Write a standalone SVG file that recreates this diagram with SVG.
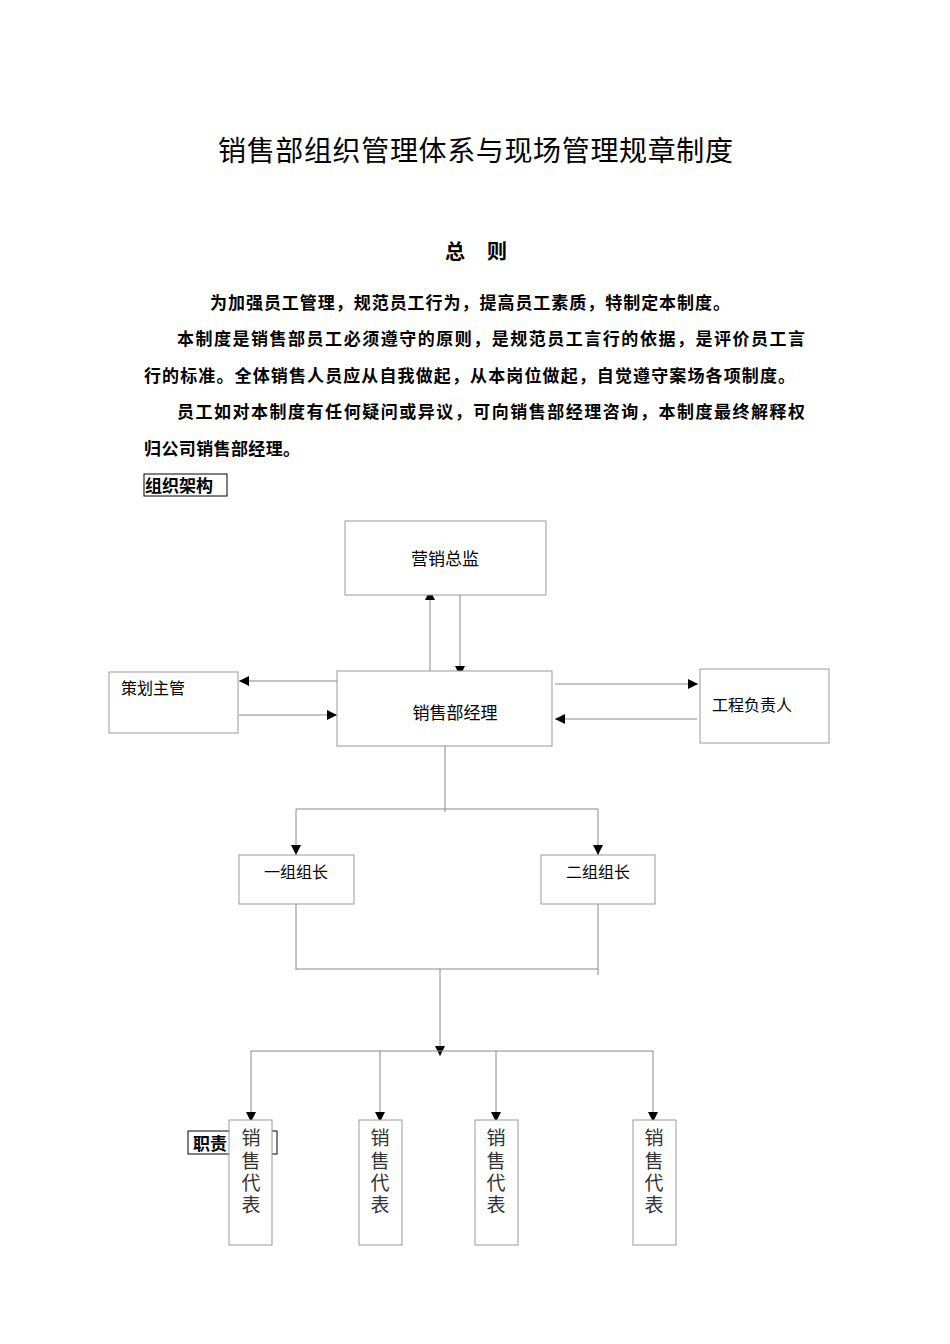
<svg xmlns="http://www.w3.org/2000/svg" width="950" height="1344" viewBox="0 0 950 1344">
<style>
text{font-family:"Liberation Sans","Noto Sans CJK SC",sans-serif;fill:#000}
.b{font-weight:bold;font-size:17px}
.box{fill:#fff;stroke:#999;stroke-width:1}
.n{font-size:17px}
.c line{stroke:#888;stroke-width:1}
.v{font-size:19px;fill:#333}
</style>
<defs><marker id="a" viewBox="0 0 10 10" refX="10" refY="5" markerWidth="10" markerHeight="10" markerUnits="userSpaceOnUse" orient="auto"><path d="M0,0L10,5L0,10z" fill="#000"/></marker></defs>
<rect width="950" height="1344" fill="#fff"/>
<text x="218" y="161" font-size="28" textLength="515">销售部组织管理体系与现场管理规章制度</text>
<text x="445" y="259" font-size="20" font-weight="bold" textLength="62">总 则</text>
<text class="b" x="210" y="309" textLength="520">为加强员工管理，规范员工行为，提高员工素质，特制定本制度。</text>
<text class="b" x="177" y="345" textLength="628">本制度是销售部员工必须遵守的原则，是规范员工言行的依据，是评价员工言</text>
<text class="b" x="144" y="382" textLength="651">行的标准。全体销售人员应从自我做起，从本岗位做起，自觉遵守案场各项制度。</text>
<text class="b" x="177" y="418" textLength="628">员工如对本制度有任何疑问或异议，可向销售部经理咨询，本制度最终解释权</text>
<text class="b" x="144" y="455" textLength="156">归公司销售部经理。</text>
<rect x="144" y="474" width="83" height="22" fill="none" stroke="#000"/>
<text class="b" x="145" y="492">组织架构</text>
<rect x="188" y="1131" width="89" height="23" fill="none" stroke="#000"/>
<text class="b" x="193" y="1150">职责</text>
<g class="c">
<line x1="430" y1="675" x2="430" y2="590" marker-end="url(#a)"/>
<line x1="460" y1="590" x2="460" y2="676" marker-end="url(#a)"/>
<line x1="337" y1="681" x2="239" y2="681" marker-end="url(#a)"/>
<line x1="239" y1="715" x2="337" y2="715" marker-end="url(#a)"/>
<line x1="555" y1="684" x2="698" y2="684" marker-end="url(#a)"/>
<line x1="697" y1="719" x2="555" y2="719" marker-end="url(#a)"/>
<line x1="445" y1="746" x2="445" y2="812"/>
<line x1="296" y1="809" x2="598" y2="809"/>
<line x1="296" y1="809" x2="296" y2="855" marker-end="url(#a)"/>
<line x1="598" y1="809" x2="598" y2="855" marker-end="url(#a)"/>
<line x1="296" y1="904" x2="296" y2="970"/>
<line x1="598" y1="904" x2="598" y2="975"/>
<line x1="296" y1="969" x2="598" y2="969"/>
<line x1="440" y1="969" x2="440" y2="1056" marker-end="url(#a)"/>
<line x1="251" y1="1051" x2="653" y2="1051"/>
<line x1="251" y1="1051" x2="251" y2="1122" marker-end="url(#a)"/>
<line x1="380" y1="1051" x2="380" y2="1122" marker-end="url(#a)"/>
<line x1="496" y1="1051" x2="496" y2="1122" marker-end="url(#a)"/>
<line x1="653" y1="1051" x2="653" y2="1122" marker-end="url(#a)"/>
</g>
<g id="n1"><rect class="box" x="345" y="521" width="201" height="74"/><text class="n" x="445" y="565" text-anchor="middle">营销总监</text></g>
<g id="n2"><rect class="box" x="337" y="671" width="215" height="75"/><text class="n" x="455" y="719" text-anchor="middle">销售部经理</text></g>
<g id="n3"><rect class="box" x="109" y="672" width="129" height="61"/><text x="121" y="694" font-size="16">策划主管</text></g>
<g id="n4"><rect class="box" x="700" y="669" width="129" height="74"/><text x="712" y="711" font-size="16">工程负责人</text></g>
<g id="n5"><rect class="box" x="239" y="855" width="115" height="49"/><text x="296" y="878" font-size="16" text-anchor="middle">一组组长</text></g>
<g id="n6"><rect class="box" x="541" y="855" width="114" height="49"/><text x="598" y="878" font-size="16" text-anchor="middle">二组组长</text></g>
<g id="n7"><rect class="box" x="229" y="1120" width="43" height="125"/><text class="v" text-anchor="middle"><tspan x="251" y="1145">销</tspan><tspan x="251" y="1168">售</tspan><tspan x="251" y="1190">代</tspan><tspan x="251" y="1212">表</tspan></text></g>
<g id="n8"><rect class="box" x="359" y="1120" width="43" height="125"/><text class="v" text-anchor="middle"><tspan x="380" y="1145">销</tspan><tspan x="380" y="1168">售</tspan><tspan x="380" y="1190">代</tspan><tspan x="380" y="1212">表</tspan></text></g>
<g id="n9"><rect class="box" x="475" y="1120" width="43" height="125"/><text class="v" text-anchor="middle"><tspan x="496" y="1145">销</tspan><tspan x="496" y="1168">售</tspan><tspan x="496" y="1190">代</tspan><tspan x="496" y="1212">表</tspan></text></g>
<g id="n10"><rect class="box" x="633" y="1120" width="43" height="125"/><text class="v" text-anchor="middle"><tspan x="654" y="1145">销</tspan><tspan x="654" y="1168">售</tspan><tspan x="654" y="1190">代</tspan><tspan x="654" y="1212">表</tspan></text></g>
</svg>
